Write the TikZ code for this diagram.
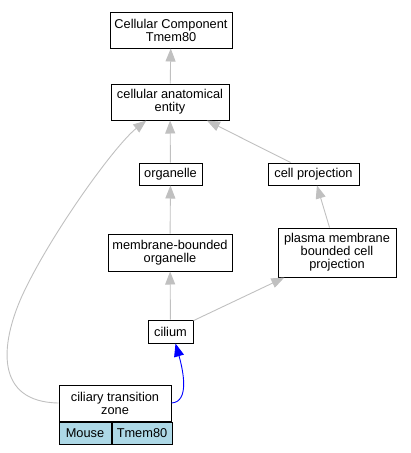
\documentclass[tikz,border=0pt]{standalone}
\usepackage{fontspec}
\setmainfont{Liberation Sans}
\usetikzlibrary{positioning,arrows.meta}
\definecolor{edgegray}{HTML}{C0C0C0}
\definecolor{lightblue}{HTML}{ADD8E6}
\tikzset{
  termbox/.style={draw, line width=1pt, fill=white, align=center, inner sep=0pt,
    font=\fontsize{12.8}{13}\selectfont},
  specbox/.style={termbox, fill=lightblue},
  isarrow/.style={-{Triangle[length=13pt, width=10pt]}, line width=0.9pt, draw=edgegray},
  annotarrow/.style={-{Triangle[length=13pt, width=10pt]}, line width=0.9pt, draw=blue},
}

\begin{document}
\begin{tikzpicture}[x=1pt, y=-1pt]
  \useasboundingbox (0,0) rectangle (411,453);
  % terms
  \node[termbox, minimum width=122pt, minimum height=36pt] (cc) at (171,30) {Cellular Component\\Tmem80};
  \node[termbox, minimum width=118pt, minimum height=36pt] (cae) at (170,102) {cellular anatomical\\entity};
  \node[termbox, minimum width=63pt, minimum height=22pt] (org) at (170.5,174) {organelle};
  \node[termbox, minimum width=91pt, minimum height=22pt] (cp) at (313.5,174) {cell projection};
  \node[termbox, minimum width=124pt, minimum height=37pt] (mbo) at (170,252.5) {membrane-bounded\\organelle};
  \node[termbox, minimum width=118pt, minimum height=49pt] (pmbcp) at (337,252.5) {plasma membrane\\bounded cell\\projection};
  \node[termbox, minimum width=45pt, minimum height=23pt] (cil) at (170.5,331.5) {cilium};
  \node[termbox, minimum width=112pt, minimum height=36pt] (ctz) at (115,403) {ciliary transition\\zone};
  \node[specbox, anchor=north west, minimum width=52pt, minimum height=22pt] (mouse) at (ctz.south west) {Mouse};
  \node[specbox, anchor=north west, minimum width=60pt, minimum height=22pt] (tmem) at (mouse.north east) {Tmem80};
  % is_a edges
  \draw[isarrow] (cae) -- (cc);
  \draw[isarrow] (org) -- (cae);
  \draw[isarrow] (cp) -- (cae);
  \draw[isarrow] (mbo) -- (org);
  \draw[isarrow] (pmbcp) -- (cp);
  \draw[isarrow] (cil) -- (mbo);
  \draw[isarrow] (cil) -- (pmbcp);
  \draw[isarrow] (ctz.west) .. controls (-5,402) and (0,345) .. (22,296)
    .. controls (50,235) and (115,145) .. (cae);
  % annotation
  \draw[annotarrow] (ctz.east) .. controls (190,402) and (183,370) .. ([xshift=5pt]cil.south);
\end{tikzpicture}
\end{document}
